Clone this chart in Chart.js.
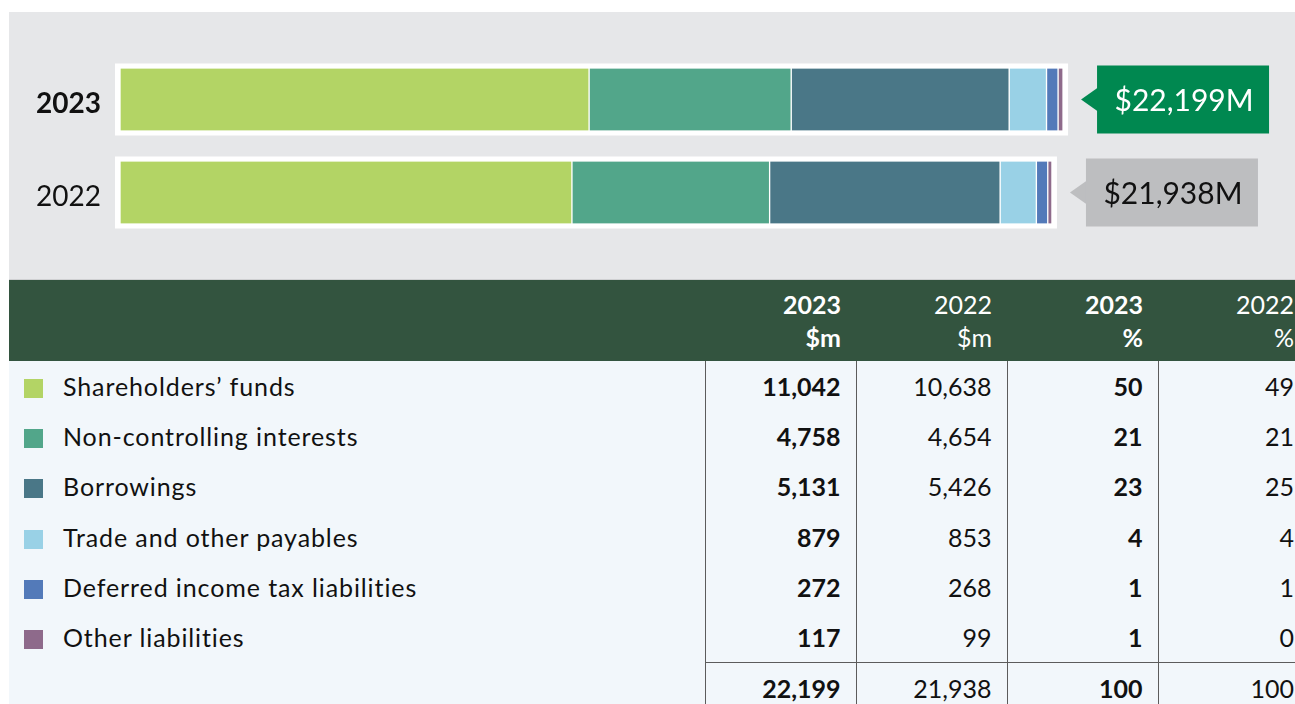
<!DOCTYPE html>
<html>
<head>
<meta charset="utf-8">
<script src="https://cdn.jsdelivr.net/npm/chart.js@4"></script>
<style>
  body { margin: 0; background: #fff; font-family: Lato, sans-serif; overflow: hidden; font-variant-ligatures: none; }
  #wrap { position: absolute; left: 9px; top: 12px; width: 1286px; overflow: hidden; }
  #panel { position: relative; width: 1286px; height: 267px; background: #e6e7e9; border-bottom: 1px solid #cfd0d2; }
  table { border-collapse: collapse; table-layout: fixed; width: 1300px; color: #111; font-size: 25px; }
  thead th { background: #33543f; color: #fff; height: 81px; padding: 0 15px 0 0; text-align: right;
             font-weight: normal; line-height: 33px; vertical-align: middle; }
  thead th.b { font-weight: bold; }
  tbody { background: #f2f7fb; }
  tbody td { height: 50.2px; padding: 0 15px 0 0; text-align: right; border-left: 1px solid #5c5c5c; }
  tbody td.lab { text-align: left; border-left: none; padding-left: 15px; letter-spacing: 0.9px; }
  tbody td.b { font-weight: bold; }
  tr.tot td { border-top: 1px solid #5c5c5c; }
  tr.tot td.lab { border-top: none; }
  .sw { display: inline-block; width: 19px; height: 19px; margin-right: 20px; vertical-align: -2px; }
</style>
</head>
<body>
<div id="wrap">
  <div id="panel"><canvas id="liabChart"></canvas></div>
  <table id="tbl">
    <colgroup><col style="width:696px"><col style="width:151px"><col style="width:151px"><col style="width:151px"><col style="width:151px"></colgroup>
    <thead><tr id="head"></tr></thead>
    <tbody id="body"></tbody>
  </table>
</div>
<script>
var years = ['2023', '2022'];
var categories = ['Shareholders\u2019 funds', 'Non-controlling interests', 'Borrowings',
  'Trade and other payables', 'Deferred income tax liabilities', 'Other liabilities'];
var values2023 = [11042, 4758, 5131, 879, 272, 117];
var values2022 = [10638, 4654, 5426, 853, 268, 99];
var pct2023 = [50, 21, 23, 4, 1, 1];
var pct2022 = [49, 21, 25, 4, 1, 0];
var totals = [22199, 21938];
var totalPct = [100, 100];
var totalLabels = ['$22,199M', '$21,938M'];
var headTop = ['2023', '2022', '2023', '2022'];
var headSub = ['$m', '$m', '%', '%'];

var colors = ['#b3d465', '#52a68a', '#4a7787', '#99d1e6', '#537ab9', '#8e6a8b'];

function fmt(n) { return n.toLocaleString('en-US'); }

// table
(function () {
  var head = document.getElementById('head');
  var html = '<th></th>';
  headTop.forEach(function (t, i) {
    html += '<th class="' + (i % 2 === 0 ? 'b' : '') + '">' + t + '<br>' + headSub[i] + '</th>';
  });
  head.innerHTML = html;

  var body = document.getElementById('body');
  var rows = '';
  categories.forEach(function (c, i) {
    rows += '<tr><td class="lab"><span class="sw" style="background:' + colors[i] + '"></span>' + c + '</td>' +
      '<td class="b">' + fmt(values2023[i]) + '</td><td>' + fmt(values2022[i]) + '</td>' +
      '<td class="b">' + pct2023[i] + '</td><td>' + pct2022[i] + '</td></tr>';
  });
  rows += '<tr class="tot"><td class="lab"></td><td class="b">' + fmt(totals[0]) + '</td><td>' + fmt(totals[1]) +
    '</td><td class="b">' + totalPct[0] + '</td><td>' + totalPct[1] + '</td></tr>';
  body.innerHTML = rows;
})();

// white frame behind each stacked bar + total callouts
var framePlugin = {
  id: 'frames',
  beforeDatasetsDraw: function (chart) {
    var ctx = chart.ctx, xs = chart.scales.x, ys = chart.scales.y;
    ctx.save();
    ctx.fillStyle = '#fff';
    totals.forEach(function (t, i) {
      var x0 = xs.getPixelForValue(0) - 5, x1 = xs.getPixelForValue(t) + 5;
      var yc = ys.getPixelForValue(i);
      ctx.fillRect(x0, yc - 36, x1 - x0, 72);
    });
    ctx.restore();
  },
  afterDatasetsDraw: function (chart) {
    var ctx = chart.ctx, xs = chart.scales.x, ys = chart.scales.y;
    ctx.save();
    totals.forEach(function (t, i) {
      var end = xs.getPixelForValue(t) + 5;
      var yc = ys.getPixelForValue(i);
      var tip = end + 13, bx = end + 29, bw = 172, bh = 68;
      ctx.fillStyle = i === 0 ? '#008850' : '#bdbec0';
      ctx.beginPath();
      ctx.moveTo(tip, yc);
      ctx.lineTo(bx + 1, yc - 12);
      ctx.lineTo(bx + 1, yc + 12);
      ctx.closePath();
      ctx.fill();
      ctx.fillRect(bx, yc - bh / 2, bw, bh);
      ctx.fillStyle = i === 0 ? '#fff' : '#111';
      ctx.font = '30px Lato';
      ctx.textAlign = 'center';
      ctx.textBaseline = 'middle';
      ctx.fillText(totalLabels[i], bx + bw / 2 + 1, yc + 2);
    });
    ctx.restore();
  }
};

var ctx = document.getElementById('liabChart').getContext('2d');
var chart = new Chart(ctx, {
  type: 'bar',
  data: {
    labels: years,
    datasets: categories.map(function (c, i) {
      return {
        label: c,
        data: [values2023[i], values2022[i]],
        backgroundColor: colors[i],
        borderColor: '#fff',
        borderWidth: { left: 1, right: 1, top: 0, bottom: 0 },
        borderSkipped: false,
        barThickness: 62
      };
    })
  },
  options: {
    indexAxis: 'y',
    responsive: true,
    maintainAspectRatio: false,
    animation: false,
    layout: { padding: { top: 41, bottom: 40, left: 0, right: 28 } },
    plugins: { legend: { display: false }, tooltip: { enabled: false } },
    scales: {
      x: { stacked: true, display: false, min: 0, max: 27000 },
      y: {
        stacked: true,
        grid: { display: false, drawTicks: false },
        border: { display: false },
        afterFit: function (s) { s.width = 111; },
        ticks: {
          padding: 19,
          labelOffset: 4,
          color: '#111',
          font: function (c) { return { family: 'Lato', size: 28, weight: c.index === 0 ? 'bold' : 'normal' }; }
        }
      }
    }
  },
  plugins: [framePlugin]
});
</script>
</body>
</html>
